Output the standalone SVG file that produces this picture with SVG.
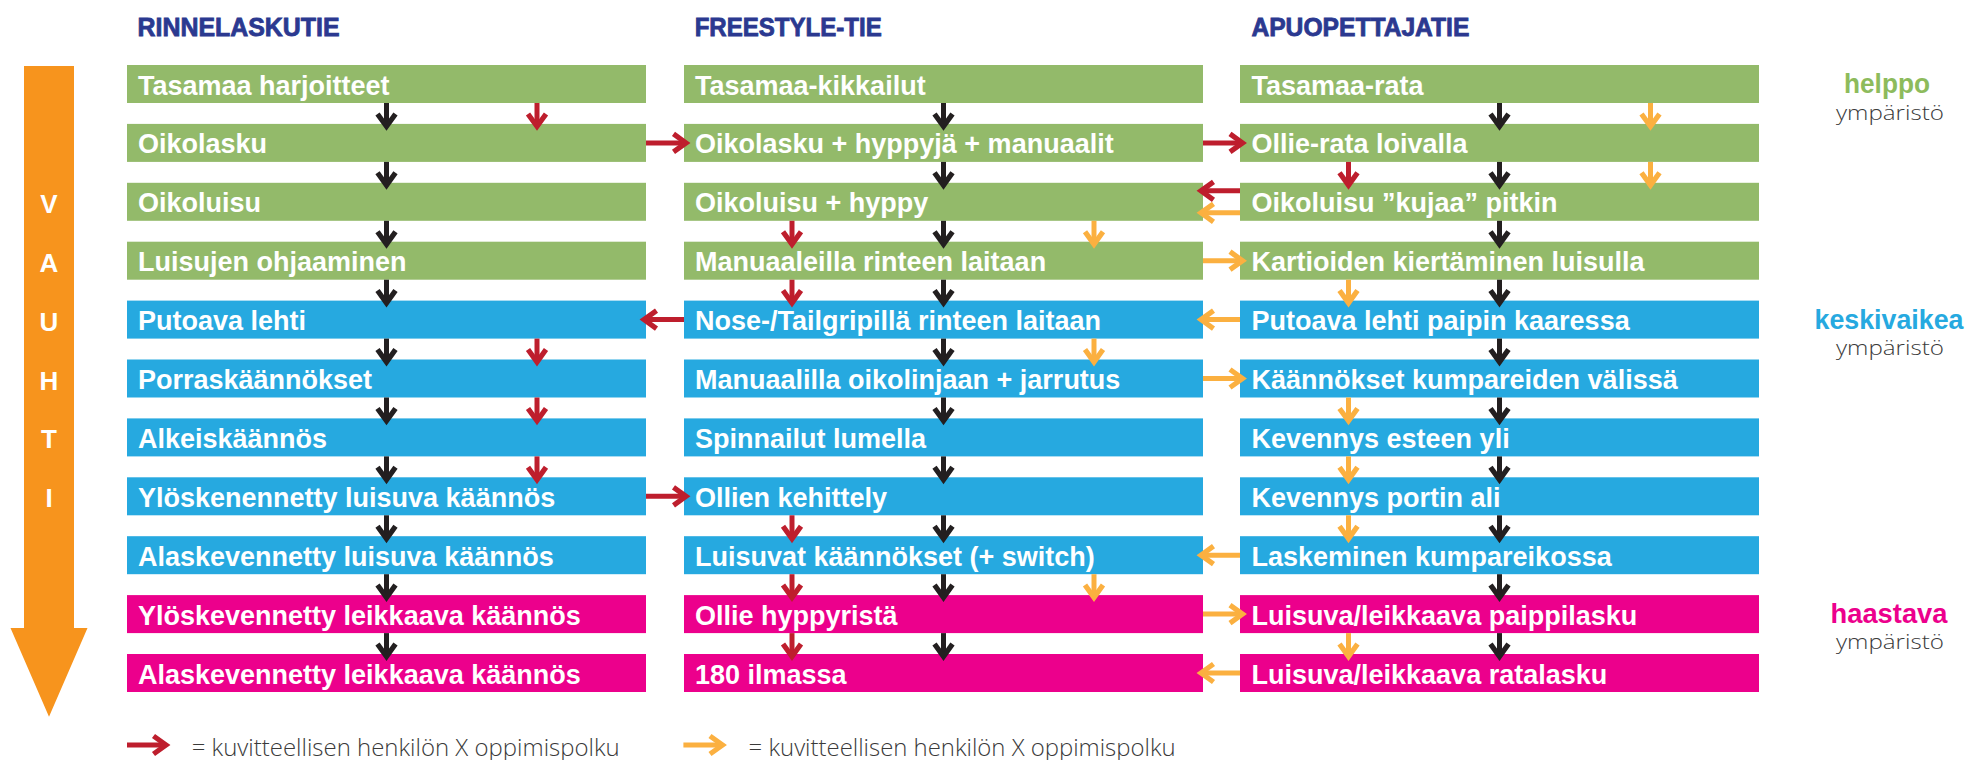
<svg xmlns="http://www.w3.org/2000/svg" width="1968" height="760" viewBox="0 0 1968 760">
  <style>
    .title { font-family: "Liberation Sans", Arial, sans-serif; font-weight: 700; font-size: 25px; fill: #2B3990; stroke: #2B3990; stroke-width: 0.8px; }
    .box-g { fill: #93BA6A; }
    .box-b { fill: #26A9E0; }
    .box-m { fill: #EC008C; }
    .lbl { font-family: "Liberation Sans", Arial, sans-serif; font-weight: 700; font-size: 27px; fill: #FFFFFF; }
    .speed { font-family: "Liberation Sans", Arial, sans-serif; font-weight: 700; font-size: 26px; fill: #FFFFFF; text-anchor: middle; }
    .lvl { font-family: "Liberation Sans", Arial, sans-serif; font-weight: 700; font-size: 27px; text-anchor: middle; }
    .env { font-family: "Open Sans", "Liberation Sans", sans-serif; font-weight: 300; font-size: 20px; fill: #3A3A3A; text-anchor: middle; }
    .legend { font-family: "Open Sans", "Liberation Sans", sans-serif; font-weight: 300; font-size: 24px; fill: #3A3A3A; }
    .k { stroke: #231F20; stroke-width: 5; fill: none; marker-end: url(#ah-k); }
    .r { stroke: #BE1E2D; stroke-width: 5; fill: none; marker-end: url(#ah-r); }
    .o { stroke: #FBB040; stroke-width: 5; fill: none; marker-end: url(#ah-o); }
  </style>
  <defs>
    <marker id="ah-k" markerUnits="userSpaceOnUse" viewBox="-16 -16 32 32" markerWidth="32" markerHeight="32" refX="0" refY="0" orient="auto">
      <path d="M-12.5,-9 L0,0 L-12.5,9" fill="none" stroke="#231F20" stroke-width="5.2"/>
    </marker>
    <marker id="ah-r" markerUnits="userSpaceOnUse" viewBox="-16 -16 32 32" markerWidth="32" markerHeight="32" refX="0" refY="0" orient="auto">
      <path d="M-12.5,-9 L0,0 L-12.5,9" fill="none" stroke="#BE1E2D" stroke-width="5.2"/>
    </marker>
    <marker id="ah-o" markerUnits="userSpaceOnUse" viewBox="-16 -16 32 32" markerWidth="32" markerHeight="32" refX="0" refY="0" orient="auto">
      <path d="M-12.5,-9 L0,0 L-12.5,9" fill="none" stroke="#FBB040" stroke-width="5.2"/>
    </marker>
  </defs>

  <rect width="1968" height="760" fill="#FFFFFF"/>

  <!-- column headings -->
  <text class="title" x="137.6" y="36" textLength="202" lengthAdjust="spacingAndGlyphs">RINNELASKUTIE</text>
  <text class="title" x="694.7" y="36" textLength="187" lengthAdjust="spacingAndGlyphs">FREESTYLE-TIE</text>
  <text class="title" x="1251.4" y="36" textLength="218" lengthAdjust="spacingAndGlyphs">APUOPETTAJATIE</text>

  <!-- speed arrow -->
  <g id="vauhti">
    <polygon points="24,66 74,66 74,628 87.5,628 49,716.7 10.5,628 24,628" fill="#F7941D"/>
    <text class="speed" x="49" y="212.8">V</text>
    <text class="speed" x="49" y="271.7">A</text>
    <text class="speed" x="49" y="330.6">U</text>
    <text class="speed" x="49" y="389.5">H</text>
    <text class="speed" x="49" y="448.4">T</text>
    <text class="speed" x="49" y="507.3">I</text>
  </g>

  <!-- difficulty levels -->
  <g id="level-helppo">
    <text class="lvl" x="1887" y="93.3" fill="#8DBB5C" textLength="86" lengthAdjust="spacingAndGlyphs">helppo</text>
    <text class="env" x="1890" y="120" textLength="108" lengthAdjust="spacingAndGlyphs">ympäristö</text>
  </g>
  <g id="level-keskivaikea">
    <text class="lvl" x="1889" y="329" fill="#26A9E0" textLength="149" lengthAdjust="spacingAndGlyphs">keskivaikea</text>
    <text class="env" x="1890" y="355" textLength="108" lengthAdjust="spacingAndGlyphs">ympäristö</text>
  </g>
  <g id="level-haastava">
    <text class="lvl" x="1889" y="623.4" fill="#EC008C" textLength="117" lengthAdjust="spacingAndGlyphs">haastava</text>
    <text class="env" x="1890" y="649" textLength="108" lengthAdjust="spacingAndGlyphs">ympäristö</text>
  </g>

  <!-- column 1: Rinnelaskutie -->
  <g id="r1"><rect class="box-g" x="127" y="65" width="519" height="38"/><text class="lbl" x="138" y="94.5">Tasamaa harjoitteet</text></g>
  <g id="r2"><rect class="box-g" x="127" y="123.9" width="519" height="38"/><text class="lbl" x="138" y="153.4">Oikolasku</text></g>
  <g id="r3"><rect class="box-g" x="127" y="182.8" width="519" height="38"/><text class="lbl" x="138" y="212.3">Oikoluisu</text></g>
  <g id="r4"><rect class="box-g" x="127" y="241.7" width="519" height="38"/><text class="lbl" x="138" y="271.2">Luisujen ohjaaminen</text></g>
  <g id="r5"><rect class="box-b" x="127" y="300.6" width="519" height="38"/><text class="lbl" x="138" y="330.1">Putoava lehti</text></g>
  <g id="r6"><rect class="box-b" x="127" y="359.5" width="519" height="38"/><text class="lbl" x="138" y="389">Porraskäännökset</text></g>
  <g id="r7"><rect class="box-b" x="127" y="418.4" width="519" height="38"/><text class="lbl" x="138" y="447.9">Alkeiskäännös</text></g>
  <g id="r8"><rect class="box-b" x="127" y="477.3" width="519" height="38"/><text class="lbl" x="138" y="506.8">Ylöskenennetty luisuva käännös</text></g>
  <g id="r9"><rect class="box-b" x="127" y="536.2" width="519" height="38"/><text class="lbl" x="138" y="565.7">Alaskevennetty luisuva käännös</text></g>
  <g id="r10"><rect class="box-m" x="127" y="595.1" width="519" height="38"/><text class="lbl" x="138" y="624.6">Ylöskevennetty leikkaava käännös</text></g>
  <g id="r11"><rect class="box-m" x="127" y="654" width="519" height="38"/><text class="lbl" x="138" y="683.5">Alaskevennetty leikkaava käännös</text></g>

  <!-- column 2: Freestyle-tie -->
  <g id="f1"><rect class="box-g" x="684" y="65" width="519" height="38"/><text class="lbl" x="695" y="94.5">Tasamaa-kikkailut</text></g>
  <g id="f2"><rect class="box-g" x="684" y="123.9" width="519" height="38"/><text class="lbl" x="695" y="153.4">Oikolasku + hyppyjä + manuaalit</text></g>
  <g id="f3"><rect class="box-g" x="684" y="182.8" width="519" height="38"/><text class="lbl" x="695" y="212.3">Oikoluisu + hyppy</text></g>
  <g id="f4"><rect class="box-g" x="684" y="241.7" width="519" height="38"/><text class="lbl" x="695" y="271.2">Manuaaleilla rinteen laitaan</text></g>
  <g id="f5"><rect class="box-b" x="684" y="300.6" width="519" height="38"/><text class="lbl" x="695" y="330.1">Nose-/Tailgripillä rinteen laitaan</text></g>
  <g id="f6"><rect class="box-b" x="684" y="359.5" width="519" height="38"/><text class="lbl" x="695" y="389">Manuaalilla oikolinjaan + jarrutus</text></g>
  <g id="f7"><rect class="box-b" x="684" y="418.4" width="519" height="38"/><text class="lbl" x="695" y="447.9">Spinnailut lumella</text></g>
  <g id="f8"><rect class="box-b" x="684" y="477.3" width="519" height="38"/><text class="lbl" x="695" y="506.8">Ollien kehittely</text></g>
  <g id="f9"><rect class="box-b" x="684" y="536.2" width="519" height="38"/><text class="lbl" x="695" y="565.7">Luisuvat käännökset (+ switch)</text></g>
  <g id="f10"><rect class="box-m" x="684" y="595.1" width="519" height="38"/><text class="lbl" x="695" y="624.6">Ollie hyppyristä</text></g>
  <g id="f11"><rect class="box-m" x="684" y="654" width="519" height="38"/><text class="lbl" x="695" y="683.5">180 ilmassa</text></g>

  <!-- column 3: Apuopettajatie -->
  <g id="a1"><rect class="box-g" x="1240" y="65" width="519" height="38"/><text class="lbl" x="1251.5" y="94.5">Tasamaa-rata</text></g>
  <g id="a2"><rect class="box-g" x="1240" y="123.9" width="519" height="38"/><text class="lbl" x="1251.5" y="153.4">Ollie-rata loivalla</text></g>
  <g id="a3"><rect class="box-g" x="1240" y="182.8" width="519" height="38"/><text class="lbl" x="1251.5" y="212.3">Oikoluisu ”kujaa” pitkin</text></g>
  <g id="a4"><rect class="box-g" x="1240" y="241.7" width="519" height="38"/><text class="lbl" x="1251.5" y="271.2">Kartioiden kiertäminen luisulla</text></g>
  <g id="a5"><rect class="box-b" x="1240" y="300.6" width="519" height="38"/><text class="lbl" x="1251.5" y="330.1">Putoava lehti paipin kaaressa</text></g>
  <g id="a6"><rect class="box-b" x="1240" y="359.5" width="519" height="38"/><text class="lbl" x="1251.5" y="389">Käännökset kumpareiden välissä</text></g>
  <g id="a7"><rect class="box-b" x="1240" y="418.4" width="519" height="38"/><text class="lbl" x="1251.5" y="447.9">Kevennys esteen yli</text></g>
  <g id="a8"><rect class="box-b" x="1240" y="477.3" width="519" height="38"/><text class="lbl" x="1251.5" y="506.8">Kevennys portin ali</text></g>
  <g id="a9"><rect class="box-b" x="1240" y="536.2" width="519" height="38"/><text class="lbl" x="1251.5" y="565.7">Laskeminen kumpareikossa</text></g>
  <g id="a10"><rect class="box-m" x="1240" y="595.1" width="519" height="38"/><text class="lbl" x="1251.5" y="624.6">Luisuva/leikkaava paippilasku</text></g>
  <g id="a11"><rect class="box-m" x="1240" y="654" width="519" height="38"/><text class="lbl" x="1251.5" y="683.5">Luisuva/leikkaava ratalasku</text></g>

  <!-- connectors -->
  <g id="connectors">
    <!-- main progression, column 1 -->
    <line class="k" x1="386.5" y1="103" x2="386.5" y2="126.4"/>
    <line class="k" x1="386.5" y1="161.9" x2="386.5" y2="185.3"/>
    <line class="k" x1="386.5" y1="220.8" x2="386.5" y2="244.2"/>
    <line class="k" x1="386.5" y1="279.7" x2="386.5" y2="303.1"/>
    <line class="k" x1="386.5" y1="338.6" x2="386.5" y2="362"/>
    <line class="k" x1="386.5" y1="397.5" x2="386.5" y2="420.9"/>
    <line class="k" x1="386.5" y1="456.4" x2="386.5" y2="479.8"/>
    <line class="k" x1="386.5" y1="515.3" x2="386.5" y2="538.7"/>
    <line class="k" x1="386.5" y1="574.2" x2="386.5" y2="597.6"/>
    <line class="k" x1="386.5" y1="633.1" x2="386.5" y2="656.5"/>
    <!-- main progression, column 2 -->
    <line class="k" x1="943.5" y1="103" x2="943.5" y2="126.4"/>
    <line class="k" x1="943.5" y1="161.9" x2="943.5" y2="185.3"/>
    <line class="k" x1="943.5" y1="220.8" x2="943.5" y2="244.2"/>
    <line class="k" x1="943.5" y1="279.7" x2="943.5" y2="303.1"/>
    <line class="k" x1="943.5" y1="338.6" x2="943.5" y2="362"/>
    <line class="k" x1="943.5" y1="397.5" x2="943.5" y2="420.9"/>
    <line class="k" x1="943.5" y1="456.4" x2="943.5" y2="479.8"/>
    <line class="k" x1="943.5" y1="515.3" x2="943.5" y2="538.7"/>
    <line class="k" x1="943.5" y1="574.2" x2="943.5" y2="597.6"/>
    <line class="k" x1="943.5" y1="633.1" x2="943.5" y2="656.5"/>
    <!-- main progression, column 3 -->
    <line class="k" x1="1499.5" y1="103" x2="1499.5" y2="126.4"/>
    <line class="k" x1="1499.5" y1="161.9" x2="1499.5" y2="185.3"/>
    <line class="k" x1="1499.5" y1="220.8" x2="1499.5" y2="244.2"/>
    <line class="k" x1="1499.5" y1="279.7" x2="1499.5" y2="303.1"/>
    <line class="k" x1="1499.5" y1="338.6" x2="1499.5" y2="362"/>
    <line class="k" x1="1499.5" y1="397.5" x2="1499.5" y2="420.9"/>
    <line class="k" x1="1499.5" y1="456.4" x2="1499.5" y2="479.8"/>
    <line class="k" x1="1499.5" y1="515.3" x2="1499.5" y2="538.7"/>
    <line class="k" x1="1499.5" y1="574.2" x2="1499.5" y2="597.6"/>
    <line class="k" x1="1499.5" y1="633.1" x2="1499.5" y2="656.5"/>

    <!-- red learning path -->
    <line class="r" x1="537" y1="103" x2="537" y2="126.4"/>
    <line class="r" x1="646" y1="142.9" x2="686" y2="142.9"/>
    <line class="r" x1="1203" y1="142.9" x2="1242.5" y2="142.9"/>
    <line class="r" x1="1348.5" y1="161.9" x2="1348.5" y2="185.3"/>
    <line class="r" x1="1240" y1="190.8" x2="1201" y2="190.8"/>
    <line class="r" x1="792" y1="220.8" x2="792" y2="244.2"/>
    <line class="r" x1="792" y1="279.7" x2="792" y2="303.1"/>
    <line class="r" x1="684" y1="319.6" x2="644" y2="319.6"/>
    <line class="r" x1="537" y1="338.6" x2="537" y2="362"/>
    <line class="r" x1="537" y1="397.5" x2="537" y2="420.9"/>
    <line class="r" x1="537" y1="456.4" x2="537" y2="479.8"/>
    <line class="r" x1="646" y1="496.3" x2="686" y2="496.3"/>
    <line class="r" x1="792" y1="515.3" x2="792" y2="538.7"/>
    <line class="r" x1="792" y1="574.2" x2="792" y2="597.6"/>
    <line class="r" x1="792" y1="633.1" x2="792" y2="656.5"/>

    <!-- orange learning path -->
    <line class="o" x1="1650.5" y1="103" x2="1650.5" y2="126.4"/>
    <line class="o" x1="1650.5" y1="161.9" x2="1650.5" y2="185.3"/>
    <line class="o" x1="1240" y1="212.8" x2="1201" y2="212.8"/>
    <line class="o" x1="1094" y1="220.8" x2="1094" y2="244.2"/>
    <line class="o" x1="1203" y1="260.7" x2="1242.5" y2="260.7"/>
    <line class="o" x1="1348.5" y1="279.7" x2="1348.5" y2="303.1"/>
    <line class="o" x1="1240" y1="319.6" x2="1201" y2="319.6"/>
    <line class="o" x1="1094" y1="338.6" x2="1094" y2="362"/>
    <line class="o" x1="1203" y1="378.5" x2="1242.5" y2="378.5"/>
    <line class="o" x1="1348.5" y1="397.5" x2="1348.5" y2="420.9"/>
    <line class="o" x1="1348.5" y1="456.4" x2="1348.5" y2="479.8"/>
    <line class="o" x1="1348.5" y1="515.3" x2="1348.5" y2="538.7"/>
    <line class="o" x1="1240" y1="555.2" x2="1201" y2="555.2"/>
    <line class="o" x1="1094" y1="574.2" x2="1094" y2="597.6"/>
    <line class="o" x1="1203" y1="614.1" x2="1242.5" y2="614.1"/>
    <line class="o" x1="1348.5" y1="633.1" x2="1348.5" y2="656.5"/>
    <line class="o" x1="1240" y1="673" x2="1201" y2="673"/>
  </g>

  <!-- legend -->
  <g id="legend">
    <line class="r" x1="127" y1="745" x2="166" y2="745"/>
    <text class="legend" x="191.7" y="755.5" textLength="428" lengthAdjust="spacingAndGlyphs">= kuvitteellisen henkilön X oppimispolku</text>
    <line class="o" x1="683.4" y1="745" x2="722.5" y2="745"/>
    <text class="legend" x="748.6" y="755.5" textLength="427" lengthAdjust="spacingAndGlyphs">= kuvitteellisen henkilön X oppimispolku</text>
  </g>
</svg>
